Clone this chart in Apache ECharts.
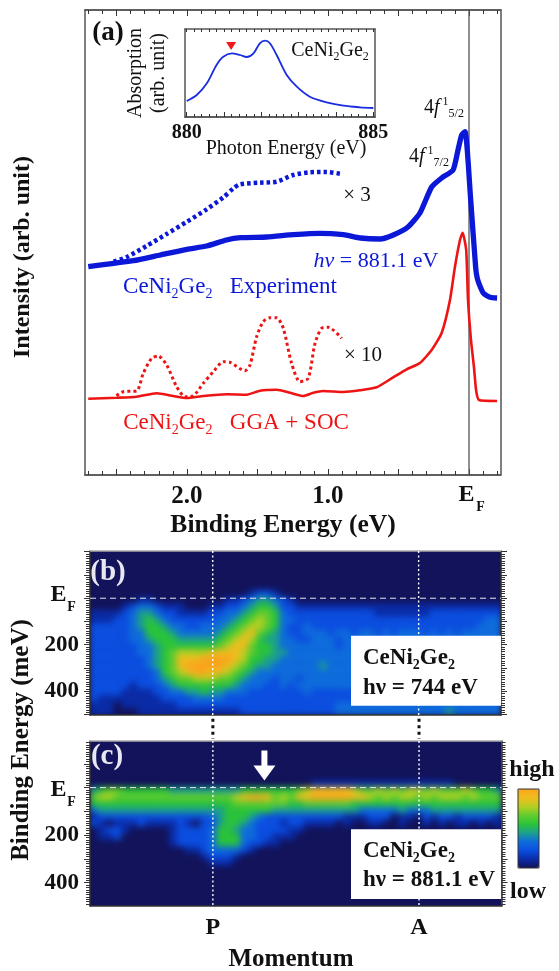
<!DOCTYPE html>
<html><head><meta charset="utf-8">
<style>html,body{margin:0;padding:0;background:#fff}#c{width:559px;height:971px}</style>
<script src="https://cdn.jsdelivr.net/npm/echarts@6/dist/echarts.min.js"></script>
</head><body><div id="c"></div>
<script>
// ---------- Panel (a): photoemission spectra ----------
const expBinding=[2.70,2.52,2.38,2.19,2.00,1.86,1.72,1.62,1.435,1.245,1.057,0.89,0.77,0.63,0.537,0.433,0.348,0.265,0.194,0.113,0.078,0.052,0.028,-0.012,-0.047,-0.062,-0.101,-0.149,-0.199];
const expIntensity=[208.3,211.7,214.3,220,225.7,229,235,237.3,238,240.3,241.7,240.3,237,236,240,248,262,288,297,305,325,340,343.3,275,208,195,182,177.7,177];
const exp3Binding=[2.52,2.43,2.286,2.144,2.0,1.86,1.742,1.67,1.624,1.482,1.364,1.246,1.128,1.01,0.903];
const exp3Intensity=[213.3,217.7,229,241,253.3,265.7,277.7,286.7,290.7,292.3,293.3,300,302.7,303,301];
const calcBinding=[2.70,2.50,2.357,2.215,2.097,2.0,1.884,1.719,1.577,1.482,1.364,1.27,1.175,1.104,1.033,0.891,0.773,0.655,0.537,0.442,0.348,0.265,0.194,0.135,0.1,0.064,0.045,0.02,0.007,-0.014,-0.035,-0.05,-0.07,-0.199];
const calcIntensity=[76.3,77.3,78.3,81.7,79,77,79,80.7,80.3,84.3,85.3,82.3,79,82.3,84,83,84.7,87.7,97.7,105.7,112,125,142,175,208,235,242.3,225,175,135,108,85,75,74];
const calc10Binding=[2.5,2.451,2.357,2.31,2.25,2.203,2.144,2.073,2.014,1.955,1.884,1.813,1.742,1.695,1.589,1.553,1.506,1.459,1.411,1.364,1.317,1.258,1.199,1.14,1.092,1.045,0.998,0.903];
const calc10Intensity=[79.3,83.3,84,101.7,116.7,119,110,88.3,78.3,79.3,91.7,103.3,113.3,112.7,104.3,110,138.3,153.3,157.3,157.3,146.7,111.7,93.3,96.7,131.7,146.7,147.7,136.7];
// ---------- Inset: absorption ----------
const xasEnergy=[880,880.27,880.54,880.80,880.98,881.21,881.43,881.61,881.79,881.96,882.10,882.23,882.41,882.68,882.95,883.30,883.75,884.20,884.64,885];
const xasValue=[16,22,33.7,52,60.3,63.7,62,60,63.7,73.7,76.3,73.7,62,42,30.3,20.3,14.7,11.3,9.7,9];
// ---------- Panels (b),(c): intensity maps, rows top to bottom, 52 columns, level 0-9 ----------
const Z='0000000000 0000000000 0000000000 0000000000 0000000000 00';
const mapB=[Z,Z,Z,Z,Z,Z,
'0000000000 0000000000 1221000000 0000000000 0000000000 00',
'0000001100 0000000112 3443210000 0000000000 0000000000 00',
'0000123321 1100011223 4554221111 1111111111 1111111111 11',
'1111234432 2111122334 5665322222 2222221111 1112222222 22',
'1112234543 2222223345 6765332222 2222222222 2222222222 33',
'2222234554 3322333456 7765322322 2222222222 2222222223 33',
'2222233555 4333334567 8654322333 2332332323 3323232333 33',
'2222233455 5444445678 7544332233 3233333333 3333333333 33',
'2222223345 5555556788 6554333333 3233333333 3333333333 33',
'2222223345 6777788887 6554433333 3333333333 3333333333 33',
'2222222345 6888999987 5544333333 3333333333 3333333333 33',
'2222222345 6899999876 5443333334 3333333333 3333333333 33',
'2222222235 6789988765 4333333333 3333333333 3333333333 33',
'2222222234 5667776654 3332332333 3333333333 3333333333 33',
'2222212223 4555555543 3322323333 3333333333 3333333333 33',
'2222111122 3344544333 2222222322 2222222222 2222222222 22',
'2111111112 2223333222 2222222222 2222222222 2222222222 22',
'1110111111 1222222222 2222222222 2333333333 3333333333 33',
'1110001111 1111111112 2222222222 2333333333 3333343333 33'];
const mapC=[Z,Z,Z,Z,Z,Z,
'0000000000 0000000000 0000000011 1111111111 1111110000 00',
'4566555555 4444444445 5555556788 8887667676 7767666765 54',
'6776666666 6666666678 9986768899 9998876767 7676777676 66',
'5555555555 5555555566 6666655666 6665555555 5555555555 55',
'3444444444 4444444555 5554444444 4444333334 3334444444 44',
'1222222222 2222234555 4322222222 2211122201 1021221222 21',
'2101112111 1210224554 3222122111 1010011001 0010101101 01',
'0122100000 1222235543 3222211000 0000000000 0000000000 00',
'0112000000 1222235553 3221110000 0000000000 0000000000 00',
'0000000000 1222235553 2211000000 0000000000 0000000000 00',
'0000000000 0011233332 1000000000 0000000000 0000000000 00',
'0000000000 0000122210 0000000000 0000000000 0000000000 00',
'0000000000 0000011100 0000000000 0000000000 0000000000 00',
Z,Z,Z,Z,Z,Z];
const colorStops=['#12135a','#0a2ba6','#0b4ee0','#0e6cdc','#1ca08e','#2ac43a','#62cc2e','#b4cf22','#f0bc1e','#fba61c'];
const momentumMarks=[0,1], momentumNames=['P','A'];

const serif='"Liberation Serif"';
const NAVY='#12135a', BLUE='#0c18d8', RED='#ee1414', AX='#555';
function seq(a,b,st){const o=[];for(let i=0;i<=Math.round((b-a)/st);i++)o.push(+(a+i*st).toFixed(4));return o;}
function cells(rows){const o=[];rows.forEach((r,y)=>{r.replace(/ /g,'').split('').forEach((v,x)=>o.push([x,y,+v]));});return o;}
function zip(a,b){return a.map((v,i)=>[v,b[i]]);}
function font(fs,bold,color,extra){return Object.assign({fontFamily:serif,fontSize:fs,fontWeight:bold?'bold':'normal',fill:color,lineHeight:Math.round(fs*1.2)},extra||{});}
function T(text,x,y,fs,o){o=o||{};const c=o.color||'#111',b=!!o.bold,lh=Math.round(fs*1.2);
 return {type:'text',x,y,rotation:o.rot||0,z:6,silent:true,style:Object.assign(font(fs,b,c),{text,textAlign:o.align||'center',textVerticalAlign:'middle',
  rich:{n:font(fs,b,c),i:font(fs,b,c,{fontStyle:'italic'}),
   s:font(Math.round(fs*.62),b,c,{lineHeight:lh,verticalAlign:'bottom'}),
   u:font(Math.round(fs*.62),b,c,{lineHeight:lh,verticalAlign:'top'})}})};}
function box(x,y,w,h){return {type:'rect',z:5,silent:true,shape:{x,y,width:w,height:h},style:{fill:'#fff'}};}

const grids=[
 {left:85,top:10,width:415.6,height:465},
 {left:185,top:29,width:190,height:88},
 {left:90,top:551,width:411,height:164},
 {left:90,top:741,width:411.5,height:165}];
const xAxes=[],yAxes=[];
function vx(g,min,max,pos,o){o=o||{};const idx=xAxes.length;
 xAxes.push({type:'value',gridIndex:g,position:pos,min,max,inverse:!!o.inverse,scale:true,splitLine:{show:false},
  axisLine:{show:!!o.line,onZero:false,lineStyle:{color:o.lineColor||AX,width:o.lw||1.5}},
  axisTick:{show:!!o.ticks,inside:o.inside!==false,length:o.len||4,customValues:o.ticks,lineStyle:{color:o.tickColor||'#333',width:1}},
  axisLabel:o.labels?Object.assign({show:true,customValues:o.labels,color:'#111',fontFamily:serif,fontWeight:'bold',fontSize:o.fs||24,margin:o.margin||12,hideOverlap:false,showMinLabel:true,showMaxLabel:true},o.labelOpt||{}):{show:false}});
 return idx;}
function vy(g,min,max,pos,o){o=o||{};const idx=yAxes.length;
 yAxes.push({type:'value',gridIndex:g,position:pos,min,max,inverse:!!o.inverse,scale:true,splitLine:{show:false},
  axisLine:{show:!!o.line,onZero:false,lineStyle:{color:o.lineColor||AX,width:o.lw||1.5}},
  axisTick:{show:!!o.ticks,inside:!!o.inside,length:o.len||4,customValues:o.ticks,lineStyle:{color:'#333',width:1}},
  axisLabel:o.labels?Object.assign({show:true,customValues:o.labels,color:'#111',fontFamily:serif,fontWeight:'bold',fontSize:o.fs||24,margin:o.margin||12,showMinLabel:true,showMaxLabel:true},o.labelOpt||{}):{show:false}});
 return idx;}

// panel (a) axes
const bMin=-0.224,bMax=2.723;
const aMajor=seq(0,2.5,0.5),aMinor=seq(-0.2,2.7,0.1);
const xa=vx(0,bMin,bMax,'bottom',{inverse:true,line:true,ticks:aMinor,len:4,labels:[1,2],fs:25,margin:9,
 labelOpt:{formatter:v=>v.toFixed(1)}});
vx(0,bMin,bMax,'bottom',{inverse:true,line:true,ticks:aMajor,len:6});
vx(0,bMin,bMax,'top',{inverse:true,line:true,ticks:aMinor,len:4});
vx(0,bMin,bMax,'top',{inverse:true,line:true,ticks:aMajor,len:6});
const ya=vy(0,0,465,'left',{line:true});
vy(0,0,465,'right',{line:true});
// inset axes
const eMin=879.955,eMax=885.045;
const xi=vx(1,eMin,eMax,'bottom',{line:true,ticks:seq(880,885,1),len:5,labels:[880,885],fs:20,margin:6});
vx(1,eMin,eMax,'bottom',{line:true,ticks:seq(880,885,0.2),len:3});
vx(1,eMin,eMax,'top',{line:true,ticks:seq(880,885,0.2),len:3});
const yi=vy(1,0,88,'left',{line:true});
vy(1,0,88,'right',{line:true});
// map panels: category axes carry the cells, value axes carry ticks and labels
function mapAxes(g,yMin,yMax,mMin,mMax,momLabels){
 const xc=xAxes.length;xAxes.push({type:'category',gridIndex:g,show:false,data:seq(0,51,1)});
 const yc=yAxes.length;yAxes.push({type:'category',gridIndex:g,show:false,inverse:true,data:seq(0,24,1)});
 const xm=vx(g,mMin,mMax,'bottom',{line:true,lineColor:'#333',lw:1.5,labels:momLabels?momentumMarks:null,fs:24,margin:10,
   labelOpt:{formatter:v=>momentumNames[momentumMarks.indexOf(v)]}});
 vx(g,mMin,mMax,'top',{line:true,lineColor:'#aaa',lw:1.5});
 const maj=seq(-200,500,100),mnr=seq(-200,500,10),lo=yMin,hi=yMax;
 const ye=vy(g,lo,hi,'left',{inverse:true,line:true,lineColor:'#333',ticks:maj,len:6,labels:[200,400],fs:23,margin:11});
 vy(g,lo,hi,'left',{inverse:true,ticks:mnr,len:4});
 vy(g,lo,hi,'right',{inverse:true,line:true,lineColor:'#333',ticks:maj,len:6});
 vy(g,lo,hi,'right',{inverse:true,ticks:mnr,len:4});
 return {xc,yc,xm,ye};}
const mMin=-0.596,mMax=1.4;
const B=mapAxes(2,-203,502,mMin,mMax,false);
const C=mapAxes(3,-196,498,mMin,mMax,true);

function ln(data,xi_,yi_,color,width,type,smooth,z){return {type:'line',xAxisIndex:xi_,yAxisIndex:yi_,data,showSymbol:false,symbol:'none',smooth:smooth||0,animation:false,silent:true,z:z||3,
  lineStyle:{color,width,type:type||'solid',cap:'butt'}};}
function guide(P,lo,hi){return [
  ln([[0,lo],[0,hi]],P.xm,P.ye,'#fff',1.4,[2,2.5]),
  ln([[1,lo],[1,hi]],P.xm,P.ye,'#fff',1.4,[2,2.5]),
  ln([[mMin,0],[mMax,0]],P.xm,P.ye,'#e8e8f0',1,[6,4])];}
const series=[
 {type:'heatmap',xAxisIndex:B.xc,yAxisIndex:B.yc,data:cells(mapB),zlevel:-1,progressive:0,animation:false,silent:true},
 {type:'heatmap',xAxisIndex:C.xc,yAxisIndex:C.yc,data:cells(mapC),zlevel:-1,progressive:0,animation:false,silent:true},
 ln(zip(exp3Binding,exp3Intensity),xa,ya,BLUE,4.5,[3.5,3],0.25),
 ln(zip(expBinding,expIntensity),xa,ya,BLUE,5.3,'solid',0.18,4),
 ln(zip(calc10Binding,calc10Intensity),xa,ya,RED,3,[3,3],0.25),
 ln(zip(calcBinding,calcIntensity),xa,ya,RED,2.6,'solid',0.18,4),
 Object.assign(ln([[0,-100],[0,475]],xa,ya,'#555',1.3),{z:2}),
 ln(zip(xasEnergy,xasValue),xi,yi,'#1a2ce0',1.8,'solid',0.3),
 {type:'scatter',xAxisIndex:xi,yAxisIndex:yi,data:[[881.19,71]],symbol:'triangle',symbolRotate:180,symbolSize:[10,8],itemStyle:{color:'#f01818',opacity:1},animation:false,silent:true,z:4},
 ...guide(B,-203,502),
 ...guide(C,-196,498),
 Object.assign(ln([[0,-290],[0,-205]],C.xm,C.ye,'#111',3,[3,3.5]),{clip:false}),
 Object.assign(ln([[1,-290],[1,-205]],C.xm,C.ye,'#111',3,[3,3.5]),{clip:false}),
 {type:'scatter',xAxisIndex:C.xm,yAxisIndex:C.ye,data:[[0.25,-93]],symbol:'path://M8,0 H14 V15 H22 L11,30 L0,15 H8 Z',symbolSize:[22,30],itemStyle:{color:'#fff',opacity:1},animation:false,silent:true,z:4}
];
const graphics=[
 box(351,635.7,150,70), box(351,829.3,150,69.7),
 {type:'rect',z:6,silent:true,shape:{x:518,y:789,width:21,height:79},style:{fill:'none',stroke:'#333',lineWidth:1}},
 T('(a)',108,33,27,{bold:true}),
 T('Intensity (arb. unit)',23,257,24,{bold:true,rot:Math.PI/2}),
 T('Absorption',136,73,20,{rot:Math.PI/2}),
 T('(arb. unit)',159,73,20,{rot:Math.PI/2}),
 T('CeNi{s|2}Ge{s|2}',330,51,20),
 T('Photon Energy (eV)',286,149,20),
 T('4{i|f}{u| 1}{s|5/2}',444,108,20),
 T('4{i|f}{u| 1}{s|7/2}',429,157,20),
 T('× 3',357,195,21),
 T('× 10',363,355,21),
 T('{i|hv} = 881.1 eV',376,261,22,{color:BLUE}),
 T('CeNi{s|2}Ge{s|2}   Experiment',230,287,23,{color:BLUE}),
 T('CeNi{s|2}Ge{s|2}   GGA + SOC',236,423,23,{color:RED}),
 T('E',466.5,495,24,{bold:true}),
 T('F',480.5,507,14,{bold:true}),
 T('Binding Energy (eV)',283,525,25.5,{bold:true}),
 T('(b)',108,573,29,{bold:true,color:'#e8e8f2'}),
 T('(c)',107,757,29,{bold:true,color:'#e8e8f2'}),
 T('E',58.5,595,24,{bold:true}),
 T('F',71.5,607,14,{bold:true}),
 T('E',58.5,790,24,{bold:true}),
 T('F',71.5,802,14,{bold:true}),
 T('Binding Energy (meV)',21.5,740,25,{bold:true,rot:Math.PI/2}),
 T('CeNi{s|2}Ge{s|2}',363,658,23,{bold:true,align:'left'}),
 T('hν = 744 eV',363,688,23,{bold:true,align:'left'}),
 T('CeNi{s|2}Ge{s|2}',363,851,23,{bold:true,align:'left'}),
 T('hν = 881.1 eV',363,880,23,{bold:true,align:'left'}),
 T('high',532,770,24,{bold:true}),
 T('low',528,892,24,{bold:true}),
 T('Momentum',291,960,25,{bold:true})
];
const chart=echarts.init(document.getElementById('c'));
chart.setOption({animation:false,tooltip:{show:false},grid:grids,xAxis:xAxes,yAxis:yAxes,series,graphic:{elements:graphics},
 visualMap:{type:'continuous',seriesIndex:[0,1],min:0,max:9,calculable:false,hoverLink:false,left:518,top:789,itemWidth:21,itemHeight:79,padding:0,orient:'vertical',
   inRange:{color:colorStops}}});
function soften(){chart.getDom().querySelectorAll('canvas').forEach(cv=>{
  if(cv.getAttribute('data-zr-dom-id')==='zr_-1'){
   cv.style.background=NAVY;cv.style.filter='blur(3px)';
   const r=g=>`M${g.left} ${g.top}H${g.left+g.width}V${g.top+g.height}H${g.left}Z`;
   cv.style.clipPath=`path("${r(grids[2])} ${r(grids[3])}")`;
  }});}
soften();chart.on('finished',soften);
</script></body></html>
